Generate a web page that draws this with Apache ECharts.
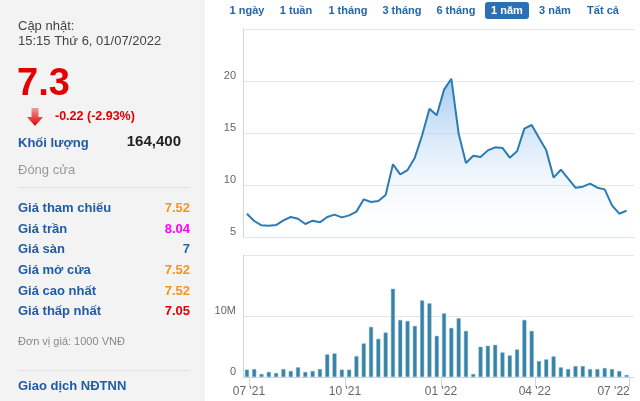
<!DOCTYPE html>
<html><head><meta charset="utf-8">
<script src="https://cdn.jsdelivr.net/npm/echarts@6/dist/echarts.min.js"></script>
<style>html,body{margin:0;padding:0;background:#fff}#c{width:640px;height:401px}</style>
</head><body><div id="c"></div>
<script>
// ---- data ----
const dates = ['2021-06-29','2021-07-06','2021-07-13','2021-07-20','2021-07-27','2021-08-03','2021-08-10','2021-08-17','2021-08-24','2021-08-31','2021-09-07','2021-09-14','2021-09-21','2021-09-28','2021-10-05','2021-10-12','2021-10-19','2021-10-26','2021-11-02','2021-11-09','2021-11-16','2021-11-23','2021-11-30','2021-12-07','2021-12-14','2021-12-21','2021-12-28','2022-01-04','2022-01-11','2022-01-18','2022-01-25','2022-02-01','2022-02-08','2022-02-15','2022-02-22','2022-03-01','2022-03-08','2022-03-15','2022-03-22','2022-03-29','2022-04-05','2022-04-12','2022-04-19','2022-04-26','2022-05-03','2022-05-10','2022-05-17','2022-05-24','2022-05-31','2022-06-07','2022-06-14','2022-06-21','2022-06-28'];
const prices = [7.24,6.54,6.12,6.09,6.15,6.6,6.92,6.76,6.25,6.57,6.41,6.92,7.15,6.89,7.08,7.44,8.62,8.37,8.46,9.04,11.99,11.03,11.44,12.63,14.78,17.34,16.7,19.17,20.22,14.94,12.12,12.82,12.69,13.33,13.62,13.56,12.63,13.24,15.42,15.77,14.55,13.33,10.71,11.47,10.61,9.74,9.84,10.13,9.74,9.58,8.04,7.24,7.53];
const volumesM = [1.2,1.3,0.49,0.82,0.65,1.3,0.98,1.58,0.82,0.98,1.3,3.7,3.86,1.2,1.2,3.42,5.49,8.21,6.25,7.28,14.46,9.35,9.18,8.37,12.55,12.07,6.74,10.43,8.04,9.62,7.55,0.49,4.95,5.11,5.27,4.02,3.53,4.51,9.35,7.55,2.61,2.88,3.37,1.58,1.3,1.79,1.79,1.3,1.3,1.47,1.3,0.98,0.33];
const quarterTicks = ['2021-07-01','2021-10-01','2022-01-01','2022-04-01','2022-07-01'];
const ranges = ['1 ngày','1 tuần','1 tháng','3 tháng','6 tháng','1 năm','3 năm','Tất cả'];
const selectedRange = '1 năm';
const updateLabel = 'Cập nhật:';
const updateTime = '15:15 Thứ 6, 01/07/2022';
const lastPrice = '7.3';
const change = '-0.22 (-2.93%)';
const volumeLabel = 'Khối lượng';
const volumeValue = '164,400';
const statusText = 'Đóng cửa';
const rowLabels = ['Giá tham chiếu','Giá trần','Giá sàn','Giá mở cửa','Giá cao nhất','Giá thấp nhất'];
const rowValues = ['7.52','8.04','7','7.52','7.52','7.05'];
const unitText = 'Đơn vị giá: 1000 VNĐ';
const foreignText = 'Giao dịch NĐTNN';

// ---- styles ----
const FONT = "'Liberation Sans', Arial, sans-serif";
const rowColors = ['#f7941d','#ff00ff','#1b6fa6','#f7941d','#f7941d','#e30000'];
const BLUE = '#1f5ba6';
const DAY = 86400000;
function ts(s){const p=s.split('-').map(Number);return Date.UTC(p[0],p[1]-1,p[2]);}
const t0 = ts(quarterTicks[0]);
function dayNum(s){return Math.round((ts(s)-t0)/DAY);}
const xMin = -5.75, xMax = 369.1;
const tickVals = quarterTicks.map(dayNum);
function fmt(v){const d=new Date(t0+v*DAY);const m=d.getUTCMonth()+1;return (m<10?'0':'')+m+" '"+String(d.getUTCFullYear()).slice(2);}

const chart = echarts.init(document.getElementById('c'), null, {renderer:'canvas'});

function txt(text,x,y,opt){
  opt=opt||{};
  return {type:'text',silent:true,style:{text:text,x:x,y:y,fill:opt.fill||'#444',
    font:(opt.weight||'normal')+' '+(opt.size||13)+'px '+FONT,
    align:opt.align||'left',textAlign:opt.align||'left',verticalAlign:'middle',textVerticalAlign:'middle'}};
}
const g = [];
g.push({type:'rect',shape:{x:0,y:0,width:205,height:401},style:{fill:'#f3f3f3'},silent:true});
g.push(txt(updateLabel,18,26,{fill:'#444'}));
g.push(txt(updateTime,18,41,{fill:'#444'}));
g.push(txt(lastPrice,17,85,{fill:'#e30000',size:38,weight:'bold'}));
g.push({type:'polygon',silent:true,shape:{points:[[31.5,108],[38.5,108],[38.5,117],[43,117],[35,126],[27,117],[31.5,117]]},
  style:{fill:new echarts.graphic.LinearGradient(0,0,0,1,[{offset:0,color:'#f49a9a'},{offset:1,color:'#e00000'}])}});
g.push(txt(change,55,117,{fill:'#e30000',size:12.5,weight:'bold'}));
g.push(txt(volumeLabel,18,143,{fill:BLUE,weight:'bold'}));
g.push(txt(volumeValue,181,142,{fill:'#222',size:15,weight:'bold',align:'right'}));
g.push(txt(statusText,18,170,{fill:'#999'}));
g.push({type:'line',silent:true,shape:{x1:18,y1:187.5,x2:190,y2:187.5},style:{stroke:'#e2e2e2',lineWidth:1}});
rowLabels.forEach((l,i)=>{
  const y=208.3+i*20.7;
  g.push(txt(l,18,y,{fill:BLUE,weight:'bold'}));
  g.push(txt(rowValues[i],190,y,{fill:rowColors[i],weight:'bold',align:'right'}));
});
g.push(txt(unitText,18,342,{fill:'#888',size:11}));
g.push({type:'line',silent:true,shape:{x1:18,y1:370.5,x2:190,y2:370.5},style:{stroke:'#e2e2e2',lineWidth:1}});
g.push(txt(foreignText,18,386,{fill:BLUE,weight:'bold'}));
const btnCenters = [247,296,348,402,456,507,555,603];
ranges.forEach((r,i)=>{
  if(r===selectedRange){
    g.push({type:'rect',silent:true,shape:{x:485,y:2,width:44,height:17,r:3},style:{fill:'#2b6fb5'}});
    g.push(txt(r,btnCenters[i],11,{fill:'#fff',size:11,weight:'bold',align:'center'}));
  } else {
    g.push(txt(r,btnCenters[i],11,{fill:'#2366ae',size:11,weight:'bold',align:'center'}));
  }
});

const option = {
  animation:false,
  backgroundColor:'#fff',
  graphic:g,
  grid:[{left:243,top:29,width:391,height:208},{left:243,top:255,width:391,height:122}],
  xAxis:[
    {type:'value',gridIndex:0,min:xMin,max:xMax,axisLabel:{show:false},axisTick:{show:false},splitLine:{show:false},
      axisLine:{onZero:false,lineStyle:{color:'#e0e3ea'}}},
    {type:'value',gridIndex:1,min:xMin,max:xMax,splitLine:{show:false},
      axisLine:{onZero:false,lineStyle:{color:'#ccd6eb'}},
      axisTick:{show:true,customValues:tickVals,length:10,lineStyle:{color:'#ccd6eb'}},
      axisLabel:{customValues:tickVals,formatter:fmt,color:'#666',fontSize:12,fontFamily:FONT,margin:9,alignMaxLabel:'right'}}
  ],
  yAxis:[
    {type:'value',gridIndex:0,min:5,max:25,interval:5,
      axisLine:{show:true,onZero:false,lineStyle:{color:'#ccd6eb'}},axisTick:{show:false},
      splitLine:{lineStyle:{color:'#e6e6e6'}},
      axisLabel:{color:'#666',fontSize:11,fontFamily:FONT,margin:7,verticalAlign:'bottom',showMaxLabel:false}},
    {type:'value',gridIndex:1,min:0,max:20000000,interval:10000000,
      axisLine:{show:true,onZero:false,lineStyle:{color:'#ccd6eb'}},axisTick:{show:false},
      splitLine:{lineStyle:{color:'#e6e6e6'}},
      axisLabel:{color:'#666',fontSize:11,fontFamily:FONT,margin:7,verticalAlign:'bottom',showMaxLabel:false,
        formatter:v=>v===0?'0':(v/1e6)+'M'}}
  ],
  series:[
    {type:'line',xAxisIndex:0,yAxisIndex:0,symbol:'none',
      data:dates.map((d,i)=>[dayNum(d),prices[i]]),
      lineStyle:{color:'#2c7bb3',width:2},
      areaStyle:{origin:'start',color:new echarts.graphic.LinearGradient(0,0,0,1,[{offset:0,color:'rgba(118,176,234,0.95)'},{offset:1,color:'rgba(255,255,255,0.1)'}])}},
    {type:'bar',xAxisIndex:1,yAxisIndex:1,barWidth:4,
      data:dates.map((d,i)=>[dayNum(d),volumesM[i]*1e6]),
      itemStyle:{color:'#3683a6',borderColor:'#6fa9c6',borderWidth:0.5}}
  ]
};
chart.setOption(option);
</script></body></html>
